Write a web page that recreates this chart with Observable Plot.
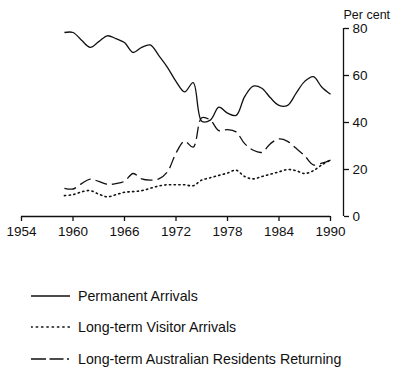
<!DOCTYPE html>
<html>
<head>
<meta charset="utf-8">
<script src="https://cdn.jsdelivr.net/npm/d3@7"></script>
<script src="https://cdn.jsdelivr.net/npm/@observablehq/plot@0.6"></script>
<style>
  html, body { margin: 0; padding: 0; background: #fff; }
  body { width: 403px; height: 385px; overflow: hidden; font-family: "Liberation Sans", Arial, sans-serif; color: #111; }
  #legend { margin-top: 30px; }
  .row { display: flex; align-items: center; height: 31.5px; }
  .row svg { margin-left: 31px; margin-right: 8px; }
  .row span { font-size: 14.2px; }
</style>
</head>
<body>
<div id="chart"></div>
<div id="legend"></div>
<script>
const years = d3.range(1959, 1991);
const permanent = [78.3, 78.3, 75, 72, 74.4, 76.9, 75.7, 74, 69.8, 72, 73, 68.5, 63.5, 57.5, 53, 57, 40.5, 41, 46.5, 44, 43, 51, 55.5, 54.6, 50.5, 47.3, 47.3, 52.5, 57.5, 59.5, 55, 52];
const visitors = [8.9, 9.3, 10.5, 11, 9.5, 8.4, 9.3, 10.3, 10.6, 11, 12, 13, 13.5, 13.5, 13.5, 13.1, 15.5, 16.5, 17.5, 18.5, 19.7, 17, 16, 17, 18, 19, 20, 19.5, 18.3, 19.5, 22, 24];
const returning = [12, 11.7, 14, 15.9, 14.9, 13.7, 14, 15, 18.3, 16, 15.5, 16, 19, 27, 32, 29.5, 42, 41, 36.5, 37, 36, 31, 28.2, 27.3, 31, 33, 32, 29, 25.8, 22, 22.7, 24];
const xTicks = [1954, 1960, 1966, 1972, 1978, 1984, 1990];
const yTicks = [0, 20, 40, 60, 80];
const seriesNames = ["Permanent Arrivals", "Long-term Visitor Arrivals", "Long-term Australian Residents Returning"];
const seriesValues = [permanent, visitors, returning];
const dashes = [null, "1.3,3.4", "12,5"];

const rows = seriesNames.flatMap((name, i) => years.map((year, j) => ({name, year, value: seriesValues[i][j]})));

const ink = "#111";
const plot = Plot.plot({
  width: 403,
  height: 250,
  marginLeft: 21,
  marginRight: 73,
  marginTop: 28,
  marginBottom: 34,
  style: {fontFamily: "'Liberation Sans', Arial, sans-serif", fontSize: "13px", color: ink, background: "#fff"},
  x: {domain: [1954, 1990]},
  y: {domain: [0, 80]},
  marks: [
    Plot.ruleY([0], {stroke: ink, strokeWidth: 1.3}),
    Plot.axisX({ticks: xTicks, tickFormat: d => String(d), tickSize: 5, tickPadding: 5, stroke: ink, strokeWidth: 1.3, fill: ink, fontSize: 13.5, label: null}),
    Plot.ruleX([1990], {y1: 0, y2: 80, dx: 13, stroke: ink, strokeWidth: 1.3}),
    Plot.axisY({anchor: "right", ticks: yTicks, tickSize: 5, tickPadding: 4, dx: 13, stroke: ink, strokeWidth: 1.3, fill: ink, fontSize: 13.5, label: null}),
    Plot.text(["Per cent"], {frameAnchor: "top-right", dx: 13, dy: -14, textAnchor: "start", lineAnchor: "middle", fontSize: 12.5, fill: ink}),
    ...seriesNames.map((name, i) => Plot.line(rows.filter(d => d.name === name), {
      x: "year", y: "value", stroke: ink, strokeWidth: i === 1 ? 1.6 : 1.3,
      strokeDasharray: dashes[i], strokeLinecap: i === 1 ? "round" : "butt", curve: "catmull-rom"
    }))
  ]
});
document.getElementById("chart").appendChild(plot);

const legend = document.getElementById("legend");
seriesNames.forEach((name, i) => {
  const row = document.createElement("div");
  row.className = "row";
  const ns = "http://www.w3.org/2000/svg";
  const svg = document.createElementNS(ns, "svg");
  svg.setAttribute("width", 39);
  svg.setAttribute("height", 6);
  const line = document.createElementNS(ns, "line");
  line.setAttribute("x1", 0); line.setAttribute("x2", 39);
  line.setAttribute("y1", 3); line.setAttribute("y2", 3);
  line.setAttribute("stroke", ink);
  line.setAttribute("stroke-width", i === 1 ? 1.6 : 1.3);
  if (dashes[i]) line.setAttribute("stroke-dasharray", i === 2 ? "15,3.5,14,3.5,2,20" : "1.3,4");
  if (i === 1) line.setAttribute("stroke-linecap", "round");
  svg.appendChild(line);
  const span = document.createElement("span");
  span.textContent = name;
  row.appendChild(svg);
  row.appendChild(span);
  legend.appendChild(row);
});
</script>
</body>
</html>
